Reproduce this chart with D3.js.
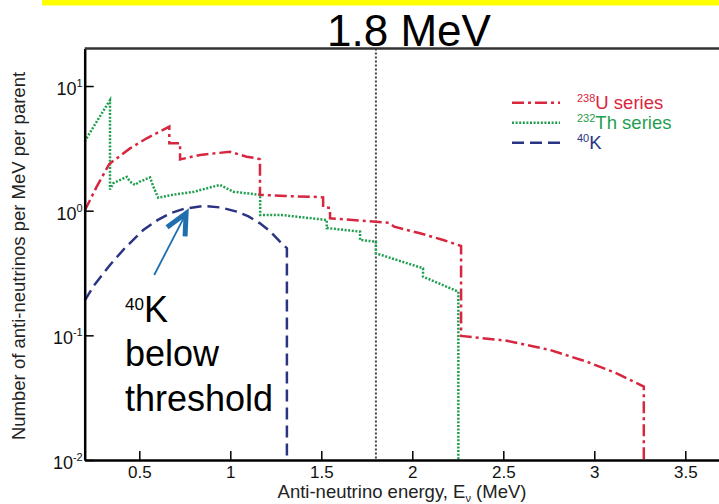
<!DOCTYPE html>
<html lang="en">
<head>
    <meta charset="UTF-8">
    <title>Geo-neutrino spectra</title>
    <script src="https://cdn.jsdelivr.net/npm/d3@7/dist/d3.min.js"></script>
    <style>
        html, body { margin: 0; padding: 0; background: #fff; }
        svg { display: block; font-family: 'Liberation Sans', Arial, Helvetica, sans-serif; }
    </style>
</head>
<body>
<script>
    // canvas
    const width = 719;
    const height = 504;

    // U-238 series (energy MeV, anti-neutrinos per MeV per parent)
    const uEnergy = [0.2, 0.266, 0.335, 0.449, 0.541, 0.665, 0.665, 0.724, 0.724, 0.834, 0.998, 1.09, 1.145, 1.163, 1.163, 1.30, 1.438, 1.51, 1.51, 1.548, 1.548, 1.80, 1.87, 1.90, 2.042, 2.17, 2.268, 2.268, 2.519, 2.757, 2.958, 3.123, 3.272, 3.272];
    const uValues = [1.0, 1.56, 2.37, 3.16, 3.81, 4.72, 3.47, 3.47, 2.58, 2.80, 2.97, 2.71, 2.63, 2.58, 1.34, 1.31, 1.295, 1.28, 1.07, 1.05, 0.87, 0.816, 0.80, 0.745, 0.659, 0.582, 0.521, 0.099, 0.0906, 0.0763, 0.0615, 0.0496, 0.0388, 0.01];

    // Th-232 series
    const thEnergy = [0.2, 0.27, 0.339, 0.339, 0.357, 0.431, 0.449, 0.476, 0.503, 0.559, 0.577, 0.604, 0.67, 0.80, 0.943, 1.016, 1.164, 1.164, 1.282, 1.53, 1.53, 1.713, 1.713, 1.80, 1.80, 2.059, 2.059, 2.253, 2.253];
    const thValues = [3.6, 5.3, 7.7, 1.48, 1.66, 1.87, 1.71, 1.61, 1.71, 1.85, 1.56, 1.27, 1.33, 1.42, 1.61, 1.42, 1.34, 0.923, 0.923, 0.842, 0.726, 0.679, 0.582, 0.564, 0.455, 0.345, 0.296, 0.224, 0.01];

    // K-40
    const kEnergy = [0.2, 0.25, 0.339, 0.42, 0.522, 0.60, 0.669, 0.75, 0.852, 0.95, 1.035, 1.10, 1.163, 1.22, 1.273, 1.311, 1.311];
    const kValues = [0.19, 0.25, 0.367, 0.50, 0.70, 0.84, 0.953, 1.04, 1.09, 1.06, 0.982, 0.90, 0.792, 0.68, 0.564, 0.50, 0.01];

    const threshold = 1.8;

    const xMajor = [0.5, 1, 1.5, 2, 2.5, 3, 3.5];
    const xMinor = [0.3, 0.4, 0.6, 0.7, 0.8, 0.9, 1.1, 1.2, 1.3, 1.4, 1.6, 1.7, 1.8, 1.9, 2.1, 2.2, 2.3, 2.4, 2.6, 2.7, 2.8, 2.9, 3.1, 3.2, 3.3, 3.4, 3.6, 3.7];
    const yMajor = [0.01, 0.1, 1, 10];
    const yExponent = ['-2', '-1', '0', '1'];
    const yMinor = [0.02, 0.03, 0.04, 0.05, 0.06, 0.07, 0.08, 0.09, 0.2, 0.3, 0.4, 0.5, 0.6, 0.7, 0.8, 0.9, 2, 3, 4, 5, 6, 7, 8, 9];

    const series = [
        { iso: '232', name: 'Th series', color: '#1f9e4f', dash: '2,1.6', E: thEnergy, V: thValues },
        { iso: '238', name: 'U series', color: '#d7263d', dash: '12,4,3,4', E: uEnergy, V: uValues },
        { iso: '40', name: 'K', color: '#2a3482', dash: '12,6', E: kEnergy, V: kValues }
    ];
    const legendOrder = [1, 0, 2];

    const svg = d3.select('body')
        .append('svg')
        .attr('width', width)
        .attr('height', height);

    // scales
    const x = d3.scaleLinear().domain([0.2, 3.8]).range([84.7, 84.7 + 3.6 * 182]);
    const y = d3.scaleLog().domain([0.01, 20]).range([460, 48.5]);

    // yellow slide bar + title
    svg.append('rect')
        .attr('x', 42).attr('y', 0)
        .attr('width', width - 42).attr('height', 5.5)
        .attr('fill', '#ffff00');

    svg.append('text')
        .attr('x', 409).attr('y', 46)
        .attr('text-anchor', 'middle')
        .style('font-size', '44px')
        .text('1.8 MeV');

    // threshold line
    svg.append('line')
        .attr('x1', x(threshold)).attr('x2', x(threshold))
        .attr('y1', y(20)).attr('y2', y(0.01))
        .attr('stroke', '#444')
        .attr('stroke-width', 2)
        .attr('stroke-dasharray', '2,2');

    // spectra
    const line = d3.line()
        .x(d => x(d[0]))
        .y(d => y(d[1]));

    svg.append('g')
        .selectAll('path')
        .data(series)
        .enter()
        .append('path')
        .attr('d', s => line(s.E.map((e, i) => [e, s.V[i]])))
        .attr('fill', 'none')
        .attr('stroke', s => s.color)
        .attr('stroke-width', 2.5)
        .attr('stroke-dasharray', s => s.dash);

    // axes
    const gx = svg.append('g').attr('transform', 'translate(0,460)');
    gx.call(d3.axisBottom(x).tickValues(xMinor).tickSize(-5).tickSizeOuter(0).tickFormat(''));
    gx.call(d3.axisBottom(x).tickValues(xMajor).tickSize(-9).tickSizeOuter(0).tickPadding(6)
        .tickFormat(d3.format('')));

    const gy = svg.append('g').attr('transform', 'translate(84.7,0)');
    gy.call(d3.axisLeft(y).tickValues(yMinor).tickSize(-5).tickSizeOuter(0).tickFormat(''));
    gy.call(d3.axisLeft(y).tickValues(yMajor).tickSize(-9).tickSizeOuter(0).tickPadding(2).tickFormat(''));

    svg.selectAll('.domain').attr('stroke', '#000').attr('stroke-width', 2.5);
    svg.selectAll('.tick line').attr('stroke', '#000').attr('stroke-width', 1.5);
    gx.selectAll('.tick text').style('font-size', '17px').attr('fill', '#111');

    // 10^n labels
    yMajor.forEach((v, i) => {
        const t = gy.append('text')
            .attr('x', -2)
            .attr('y', y(v))
            .attr('dy', '0.5em')
            .attr('text-anchor', 'end')
            .attr('fill', '#111')
            .style('font-size', '18px')
            .text('10');
        t.append('tspan')
            .attr('dy', -8)
            .style('font-size', '11px')
            .text(yExponent[i]);
    });

    // top frame
    svg.append('line')
        .attr('x1', 84.7).attr('x2', width)
        .attr('y1', y(20)).attr('y2', y(20))
        .attr('stroke', '#333')
        .attr('stroke-width', 2.5);

    // axis titles
    const xt = svg.append('text')
        .attr('x', 402).attr('y', 498)
        .attr('text-anchor', 'middle')
        .attr('fill', '#222')
        .style('font-size', '18.5px')
        .text('Anti-neutrino energy, E');
    xt.append('tspan').attr('dy', 4).style('font-size', '11px').text('ν');
    xt.append('tspan').attr('dy', -4).text(' (MeV)');

    svg.append('text')
        .attr('transform', 'translate(25,256) rotate(-90)')
        .attr('text-anchor', 'middle')
        .attr('fill', '#222')
        .style('font-size', '18.5px')
        .text('Number of anti-neutrinos per MeV per parent');

    // legend
    const legend = svg.append('g');
    legendOrder.forEach((k, i) => {
        const s = series[k];
        const ly = 102.7 + i * 20;
        legend.append('line')
            .attr('x1', 512).attr('x2', 560)
            .attr('y1', ly).attr('y2', ly)
            .attr('stroke', s.color)
            .attr('stroke-width', 2.5)
            .attr('stroke-dasharray', s.dash);
        const t = legend.append('text')
            .attr('x', 577).attr('y', ly + 6)
            .attr('fill', s.color)
            .style('font-size', '18.5px');
        t.append('tspan').attr('dy', -7).style('font-size', '11px').text(s.iso);
        t.append('tspan').attr('dy', 7).text(s.name);
    });

    // annotation
    const note = svg.append('g').attr('fill', '#000');
    const k = note.append('text').attr('x', 125).attr('y', 322).style('font-size', '36px');
    k.append('tspan').attr('dy', -12).style('font-size', '17px').text('40');
    k.append('tspan').attr('dy', 12).text('K');
    note.append('text').attr('x', 125).attr('y', 366).style('font-size', '36px').text('below');
    note.append('text').attr('x', 125).attr('y', 411).style('font-size', '36px').text('threshold');

    // arrow to the K-40 peak
    const tail = [x(0.582), y(0.305)];
    const tip = [x(0.757), y(0.953)];
    svg.append('line')
        .attr('x1', tail[0]).attr('y1', tail[1])
        .attr('x2', tip[0]).attr('y2', tip[1])
        .attr('stroke', '#1f6ead')
        .attr('stroke-width', 1.8);
    svg.append('path')
        .attr('d', 'M' + (tip[0] - 19) + ',' + (tip[1] + 14) + 'L' + tip[0] + ',' + tip[1] + 'L' + (tip[0] - 1) + ',' + (tip[1] + 23))
        .attr('fill', 'none')
        .attr('stroke', '#1f6ead')
        .attr('stroke-width', 5)
        .attr('stroke-linejoin', 'miter');
</script>
</body>
</html>
